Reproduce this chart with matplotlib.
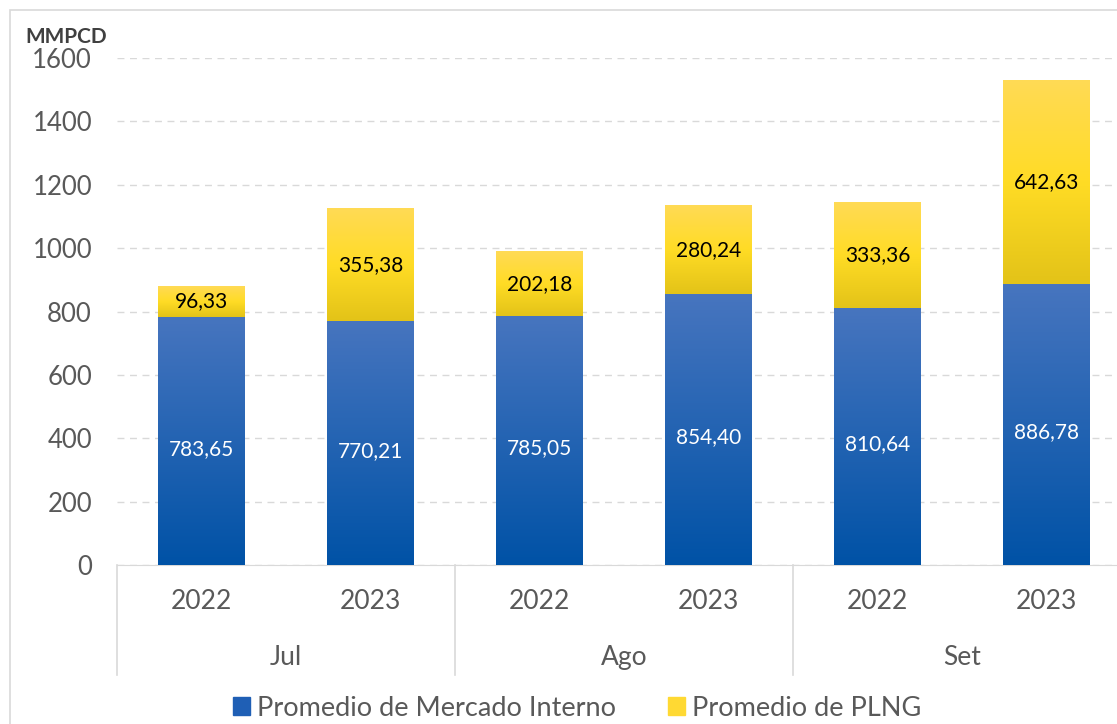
import numpy as np
import matplotlib.pyplot as plt
from matplotlib.colors import LinearSegmentedColormap
from matplotlib.patches import Rectangle

plt.rcParams['font.family'] = ['Lato', 'DejaVu Sans']

months = ['Jul', 'Ago', 'Set']
years = ['2022', '2023', '2022', '2023', '2022', '2023']
mercado = [783.65, 770.21, 785.05, 854.40, 810.64, 886.78]
plng = [96.33, 355.38, 202.18, 280.24, 333.36, 642.63]
mercado_lbl = ['783,65', '770,21', '785,05', '854,40', '810,64', '886,78']
plng_lbl = ['96,33', '355,38', '202,18', '280,24', '333,36', '642,63']

W, H = 1117, 724
fig = plt.figure(figsize=(W / 100, H / 100), dpi=100)
ax = fig.add_axes([117 / W, (H - 565) / H, (1131 - 117) / W, 507 / H])

# outer chart frame
fig.patches.append(Rectangle((10 / W, -0.1), 1.2, (H - 10) / H + 0.1, transform=fig.transFigure,
                             fill=False, edgecolor='#D9D9D9', lw=1.2))

blue = LinearSegmentedColormap.from_list('b', ['#0052A6', '#4775BF'])
yellow = LinearSegmentedColormap.from_list('y', ['#E3C318', '#FFDC25', '#FFDA55'])
grad = np.linspace(0, 1, 256).reshape(-1, 1)

x = np.arange(len(years))
bw = 0.51
for i in x:
    m, p = mercado[i], plng[i]
    ax.imshow(grad, cmap=blue, aspect='auto', origin='lower',
              extent=[i - bw / 2, i + bw / 2, 0, m], zorder=3)
    ax.imshow(grad, cmap=yellow, aspect='auto', origin='lower',
              extent=[i - bw / 2, i + bw / 2, m, m + p], zorder=3)
    ax.text(i, m / 2 - 25, mercado_lbl[i], ha='center', va='center', color='white', fontsize=15, zorder=4)
    ax.text(i, m + p / 2, plng_lbl[i], ha='center', va='center', color='black', fontsize=15, zorder=4)

ax.set_xlim(-0.5, 5.5)
ax.set_ylim(0, 1600)
ax.set_yticks(range(0, 1601, 200))
ax.yaxis.grid(True, color='#D9D9D9', linestyle=(0, (5, 4)), lw=1)
ax.set_axisbelow(True)
for s in ['top', 'right', 'left']:
    ax.spines[s].set_visible(False)
ax.spines['bottom'].set_color('#D9D9D9')
ax.tick_params(axis='y', length=0, labelsize=18.5, labelcolor='#595959', pad=18)
ax.set_xticks([])

# category labels
trans = ax.get_xaxis_transform()
for i in x:
    ax.text(i, -0.072, years[i], transform=trans, ha='center', va='center', fontsize=19, color='#595959')
for j, mname in enumerate(months):
    ax.text(2 * j + 0.5, -0.182, mname, transform=trans, ha='center', va='center', fontsize=19, color='#595959')
for b in [-0.5, 1.5, 3.5, 5.5]:
    ax.plot([b, b], [0, -0.216], transform=trans, color='#D9D9D9', lw=1.2, clip_on=False)

fig.text(25 / W, 1 - 37 / H, 'MMPCD', fontsize=15, fontweight='bold', color='#404040', va='center')

# legend
handles = [Rectangle((0, 0), 1, 1, color='#1F5FB5'), Rectangle((0, 0), 1, 1, color='#FFD933')]
fig.legend(handles, ['Promedio de Mercado Interno', 'Promedio de PLNG'], loc='center',
           bbox_to_anchor=(577 / W, 1 - 708 / H), ncol=2, frameon=False, fontsize=19.5,
           labelcolor='#595959', handlelength=0.65, handleheight=0.65, handletextpad=0.25, columnspacing=1.9)

fig.savefig('out.png', dpi=100)
